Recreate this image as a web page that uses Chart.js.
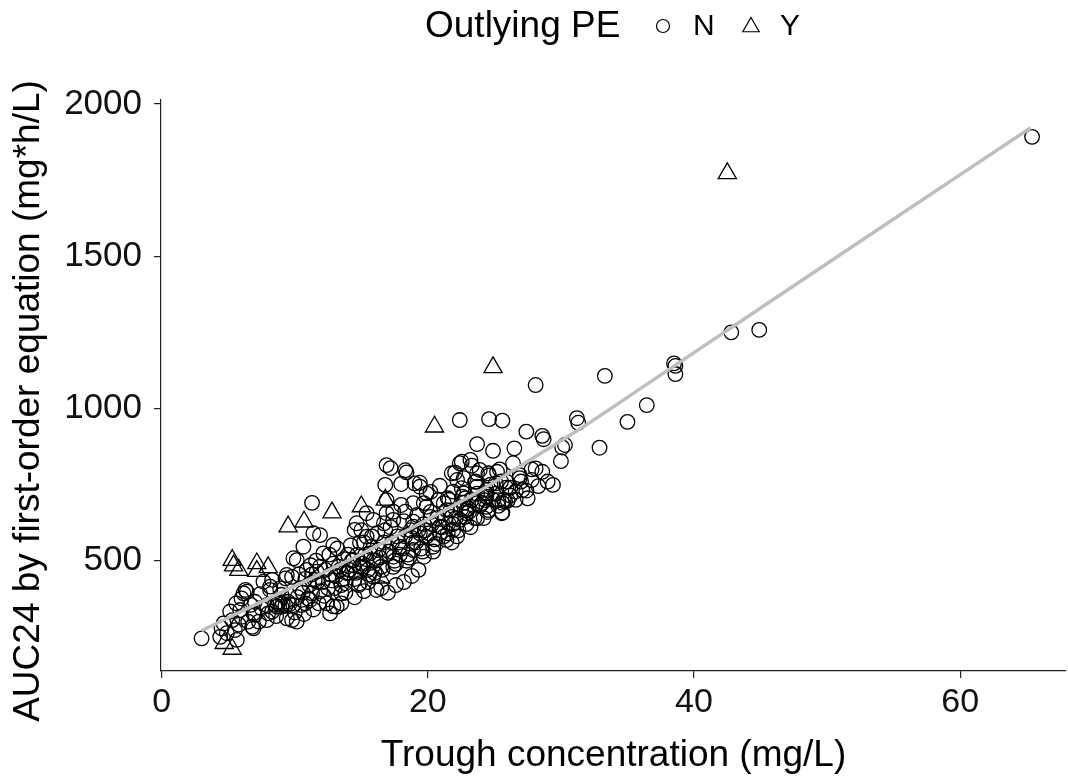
<!DOCTYPE html>
<html><head><meta charset="utf-8">
<script src="https://cdn.jsdelivr.net/npm/chart.js@4/dist/chart.umd.min.js"></script>
<style>html,body{margin:0;padding:0;background:#fff;}#wrap{width:1068px;height:778px;position:relative;}</style>
</head><body><div id="wrap"><canvas id="c" width="1068" height="778"></canvas></div>
<script>
const legendTitle = 'Outlying PE';
const groupLabels = ['N', 'Y'];
const xTitle = 'Trough concentration (mg/L)';
const yTitle = 'AUC24 by first-order equation (mg*h/L)';
const xTicks = [0, 20, 40, 60];
const yTicks = [500, 1000, 1500, 2000];

// Outlying PE = N (circles)
const nTrough = [
65.4,42.8,44.9,38.5,38.6,38.6,33.3,36.45,35.0,32.9,28.1,22.4,24.6,25.6,31.2,31.3,27.4,28.6,28.7,30.3,30.1,30.0,23.7,24.9,26.5,28.1,28.6,29.4,27.1,25.6,26.0,
16.9,17.2,18.3,18.4,19.4,19.0,18.0,16.8,20.9,19.9,20.2,22.05,22.4,23.2,23.3,23.7,23.9,22.2,22.7,23.7,24.4,24.4,25.1,25.9,26.9,26.9,22.55,21.8,24.55,25.2,23.55,22.55,21.9,24.4,24.3,25.3,25.8,24.55,25.55,23.05,22.8,23.7,21.8,21.55,25.6,24.4,22.8,22.9,23.7,21.4,19.7,20.2,16.9,18.0,18.3,17.4,16.7,18.9,27.5,26.6,28.3,27.8,26.2,29.0,21.5,
3.0,4.4,4.65,5.3,5.5,5.65,5.15,5.9,6.0,6.15,6.3,6.9,7.0,6.9,7.9,7.9,8.15,8.0,8.8,9.0,9.4,9.8,10.15,9.9,9.3,9.8,9.9,10.15,10.65,11.15,11.3,11.5,11.65,11.9,12.15,11.4,11.9,11.3,12.9,12.65,13.15,13.5,13.8,14.0,14.4,14.5,14.65,15.4,15.9,15.4,15.65,15.15,15.9,16.15,14.9,17.4,17.9,16.9,17.4,18.9,19.4,19.9,18.9,19.9,20.9,21.2,18.9,19.7,20.4,21.4,21.9,22.4,22.9,22.7,
4.5,7.0,6.8,7.5,8.3,8.65,8.9,9.5,10.5,11.0,9.4,8.3,8.15,7.65,6.4,6.0,8.5,8.7,9.1,9.3,9.6,4.9,5.8,6.5,7.3,8.6,10.0,10.7,9.0,7.4,6.7,5.6,
10.2,10.4,10.6,10.8,10.3,10.9,10.8,
11.1,11.3,11.7,11.9,11.2,11.6,11.8,11.4,
12.1,12.3,12.5,12.7,12.9,12.2,12.6,12.8,12.4,
13.1,13.3,13.5,13.7,13.9,13.2,13.6,13.8,13.4,13.0,
14.1,14.3,14.5,14.7,14.9,14.2,14.6,14.8,14.4,14.0,14.9,
15.1,15.3,15.5,15.7,15.9,15.2,15.6,15.8,15.4,15.0,15.5,
16.1,16.3,16.5,16.7,16.9,16.2,16.6,16.8,16.4,16.0,
17.1,17.3,17.5,17.7,17.9,17.2,17.6,17.8,17.4,
18.1,18.3,18.5,18.7,18.9,18.2,18.6,18.8,18.4,
19.1,19.3,19.5,19.7,19.2,19.6,19.8,19.4,
20.1,20.3,20.5,20.7,20.9,20.2,20.6,20.8,20.4,
21.1,21.3,21.5,21.7,21.9,21.2,21.6,21.8,
22.1,22.3,22.5,22.7,22.9,22.2,22.6,
23.1,23.3,23.5,23.7,23.9,23.2,23.6,
24.1,24.3,24.5,24.7,24.9,24.2,24.6,
25.1,25.3,25.5,25.7,25.9,25.4,
26.2,26.6,27.0,27.4,27.8,26.4,
16.5,17.0,17.6,18.2,18.8,19.3,14.5,15.2,13.5,12.9
];
const nAuc = [
1892,1250,1258,1148,1140,1113,1107,1011,956,871,1077,962,965,960,968,953,924,910,899,880,872,827,883,861,869,803,792,749,732,658,697,
814,804,797,790,756,754,752,749,746,721,726,789,820,831,812,787,798,765,771,743,732,710,754,760,781,771,825,787,787,792,759,738,727,721,699,699,694,666,656,672,644,639,644,623,690,677,705,666,689,666,689,644,699,683,661,661,623,628,705,728,745,765,714,760,705,
245,250,294,305,272,240,333,338,316,393,404,327,365,278,305,354,404,327,365,349,311,305,300,354,442,447,508,502,546,371,393,437,464,480,524,590,584,690,552,327,349,393,426,459,502,601,623,656,634,579,524,480,447,404,426,513,546,656,634,689,743,677,612,579,612,689,535,513,546,568,601,634,656,721,
278,322,283,344,333,349,409,365,354,376,453,437,415,431,398,376,355,360,358,352,357,262,290,300,300,318,330,325,388,390,355,360,
380,410,395,440,455,470,360,
420,455,430,400,485,500,360,340,
430,470,410,455,490,385,520,435,360,
450,480,420,505,460,540,440,395,470,410,
470,500,440,520,480,550,460,420,485,520,560,
490,520,470,545,500,560,455,580,505,600,430,
500,535,480,560,520,590,470,600,510,460,
530,560,500,580,520,610,490,560,480,
540,580,520,600,560,630,510,575,500,
560,600,540,620,650,530,600,590,
590,620,570,640,590,660,555,700,530,
610,640,590,665,620,580,700,560,
640,600,670,690,620,580,710,
660,700,640,720,680,610,760,
690,720,660,750,700,640,780,
720,680,760,700,740,800,
740,700,760,730,800,820,
410,395,420,430,450,470,380,400,360,350
];

// Outlying PE = Y (triangles)
const yTrough = [4.7,5.3,5.3,5.4,5.8,7.15,7.15,8.0,9.5,10.7,12.8,15.0,16.8,16.45,20.5,24.9,42.5];
const yAuc = [229,210,502,484,469,491,466,478,612,628,658,678,700,444,940,1135,1772];

// smooth fit line
const fitTrough = [3.0,7,11.7,15,18.7,22,24,28,31.5,36,45,55,65.3];
const fitAuc = [270,355,452,522,606,683,732,840,935,1066,1330,1622,1922];

const FONT = '"Liberation Sans", Arial, sans-serif';
const toPts = (xs, ys) => xs.map((x, i) => ({x: x, y: ys[i]}));

const legendPlugin = {
  id: 'ggLegend',
  afterDraw(chart) {
    const ctx = chart.ctx;
    ctx.save();
    ctx.fillStyle = '#000';
    ctx.textBaseline = 'middle';
    ctx.textAlign = 'left';
    ctx.font = '37px ' + FONT;
    ctx.fillText(legendTitle, 425, 27);
    ctx.strokeStyle = '#000';
    ctx.lineWidth = 1.2;
    ctx.beginPath();
    ctx.arc(663, 26, 6.5, 0, Math.PI * 2);
    ctx.stroke();
    ctx.font = '30px ' + FONT;
    ctx.fillText(groupLabels[0], 693, 27);
    const r = 9.5, cx = 751, cy = 27;
    ctx.beginPath();
    ctx.moveTo(cx, cy - r);
    ctx.lineTo(cx + r * Math.sin(2 * Math.PI / 3), cy + r / 2);
    ctx.lineTo(cx - r * Math.sin(2 * Math.PI / 3), cy + r / 2);
    ctx.closePath();
    ctx.stroke();
    ctx.fillText(groupLabels[1], 780, 27);
    // y axis title
    ctx.translate(29, 401);
    ctx.rotate(-Math.PI / 2);
    ctx.textAlign = 'center';
    ctx.font = '37px ' + FONT;
    ctx.fillText(yTitle, 0, 0);
    ctx.restore();
  }
};

new Chart(document.getElementById('c'), {
  type: 'scatter',
  data: {
    datasets: [
      {
        label: 'fit',
        data: toPts(fitTrough, fitAuc),
        showLine: true,
        borderColor: '#BEBEBE',
        borderWidth: 3.5,
        pointRadius: 0,
        tension: 0.4,
        fill: false
      },
      {
        label: groupLabels[0],
        data: toPts(nTrough, nAuc),
        pointStyle: 'circle',
        pointRadius: 7.3,
        pointBorderWidth: 1.3,
        borderColor: '#000',
        backgroundColor: 'rgba(0,0,0,0)'
      },
      {
        label: groupLabels[1],
        data: toPts(yTrough, yAuc),
        pointStyle: 'triangle',
        pointRadius: 10.5,
        pointBorderWidth: 1.3,
        borderColor: '#000',
        backgroundColor: 'rgba(0,0,0,0)'
      }
    ]
  },
  options: {
    responsive: false,
    animation: false,
    devicePixelRatio: 1,
    layout: {autoPadding: false, padding: {top: 100, right: 2, left: 0, bottom: 0}},
    plugins: {legend: {display: false}, tooltip: {enabled: false}},
    scales: {
      x: {
        type: 'linear',
        min: -0.05, max: 67.95,
        afterBuildTicks: s => { s.ticks = xTicks.map(v => ({value: v})); },
        afterFit: s => { s.height = 107; s.paddingLeft = 0; s.paddingRight = 0; },
        ticks: {font: {family: FONT, size: 34}, color: '#111', padding: 4, maxRotation: 0,
                callback: v => String(v)},
        grid: {drawOnChartArea: false, drawTicks: true, tickLength: 7, color: '#222', lineWidth: 1.2},
        border: {display: true, color: '#222', width: 1.2},
        title: {display: true, text: xTitle, font: {family: FONT, size: 37}, color: '#000', padding: {top: 0, bottom: 0}}
      },
      y: {
        type: 'linear',
        min: 137.8, max: 2013,
        afterBuildTicks: s => { s.ticks = yTicks.map(v => ({value: v})); },
        afterFit: s => { s.width = 161; s.paddingTop = 0; s.paddingBottom = 0; },
        ticks: {font: {family: FONT, size: 35}, color: '#111', padding: 12,
                callback: v => String(v)},
        grid: {drawOnChartArea: false, drawTicks: true, tickLength: 7, color: '#222', lineWidth: 1.2},
        border: {display: true, color: '#222', width: 1.2},
        title: {display: false}
      }
    }
  },
  plugins: [legendPlugin]
});
</script>
</body></html>
